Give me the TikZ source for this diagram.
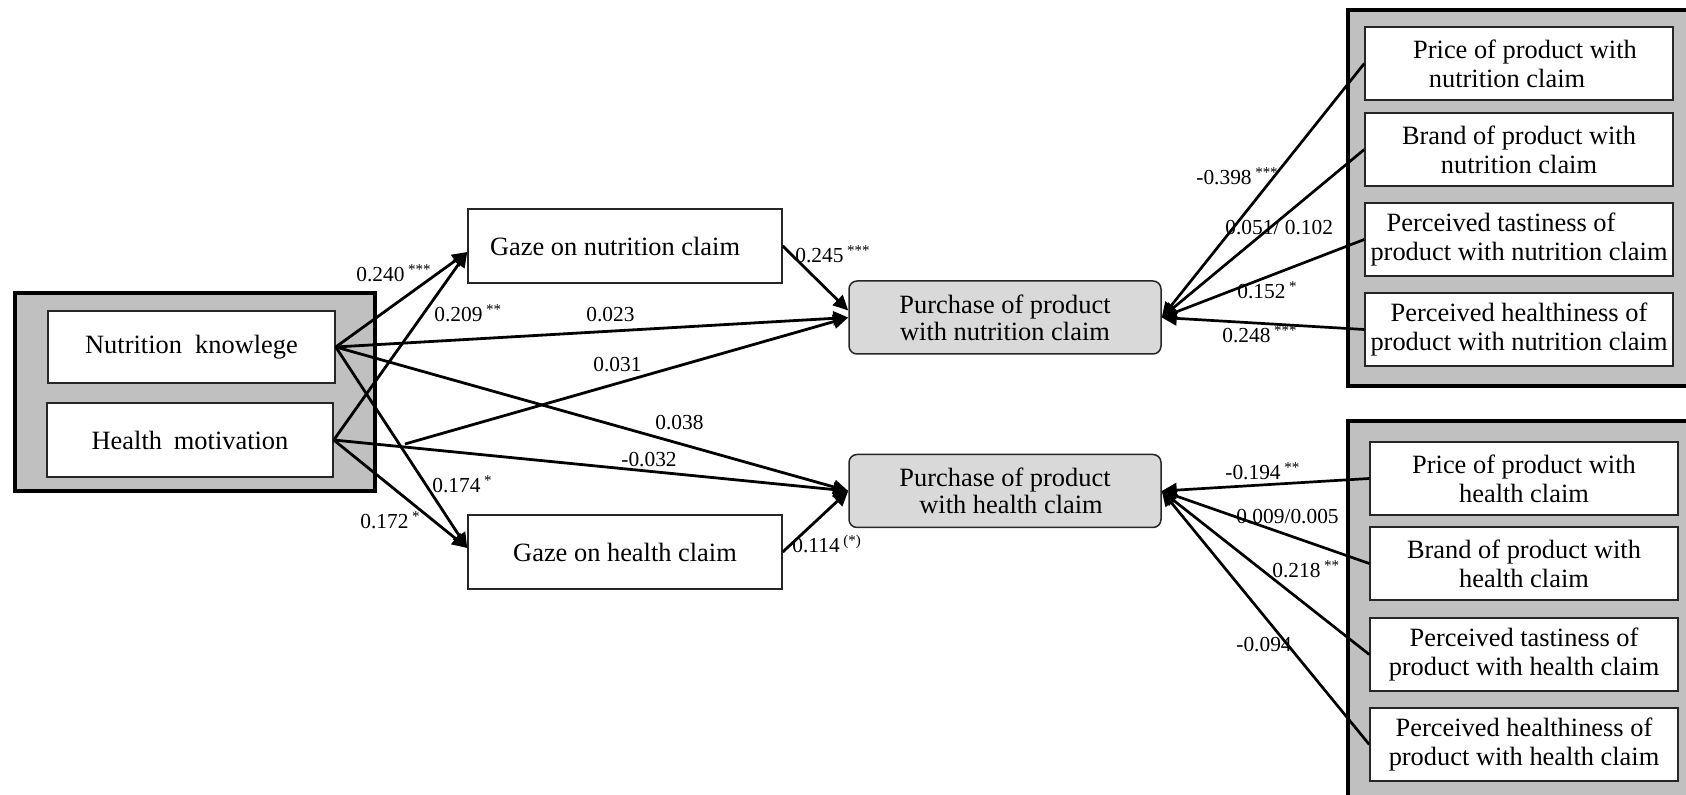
\documentclass[tikz,border=0pt]{standalone}
\usepackage{fontspec}
\setmainfont{Liberation Serif}
\usetikzlibrary{arrows.meta,calc}
\definecolor{grayfill}{HTML}{C0C0C0}
\definecolor{purfill}{HTML}{D9D9D9}
\begin{document}
\begin{tikzpicture}[x=0.5pt,y=-0.5pt,
  box/.style={draw=black!85, line width=0.75pt, fill=white, minimum width=154pt, minimum height=36.5pt, inner sep=0pt, align=center, font=\fontsize{13.2}{14.5}\selectfont},
  grp/.style={draw=black, line width=1.6pt, fill=grayfill, inner sep=0pt},
  pur/.style={box, fill=purfill, rounded corners=4pt, minimum width=156pt, font=\fontsize{13.2}{13.5}\selectfont},
  lbl/.style={anchor=base west, inner sep=0pt, font=\fontsize{10.7}{12}\selectfont},
  arr/.style={line width=1.4pt, -{Triangle[length=7.5pt,width=7pt]}},
  arrR/.style={line width=1.35pt, -{Triangle[length=7.5pt,width=7pt]}},
]
\useasboundingbox (0,0) rectangle (1686,795);
\clip (0,0) rectangle (1686,795);

% group boxes
\node[grp, minimum width=180pt, minimum height=99pt] (gL) at (195,392) {};
\node[grp, minimum width=176pt, minimum height=188pt] (gTR) at (1524,198) {};
\node[grp, minimum width=176pt, minimum height=204.5pt] (gBR) at (1524,625.5) {};

% left predictors
\node[box, minimum width=143.5pt, minimum height=36pt] (NK) at (191.5,347) {Nutrition\hspace{0.5em}knowlege};
\node[box, minimum width=143pt, minimum height=37pt] (HM) at (190,440) {Health\hspace{0.2em} motivation};

% gaze
\node[box, minimum width=157pt, minimum height=37pt] (GN) at (625,246) {Gaze on nutrition claim\hspace*{10pt}};
\node[box, minimum width=157pt, minimum height=37pt] (GH) at (625,552) {Gaze on health claim};

% purchase
\node[pur] (PN) at (1005,317.5) {Purchase of product\\with nutrition claim};
\node[pur] (PH) at (1005,491) {Purchase of product\\\hspace*{6pt}with health claim};

% right top
\node[box] (P1) at (1519,63.5) {\hspace*{6pt}Price of product with\\nutrition claim\hspace*{12pt}};
\node[box] (B1) at (1519,149.5) {Brand of product with\\nutrition claim};
\node[box] (T1) at (1519,239.5) {Perceived tastiness of\hspace*{18pt}\\product with nutrition claim};
\node[box] (H1) at (1519,329.5) {Perceived healthiness of\\product with nutrition claim};

% right bottom
\node[box] (P2) at (1524,478.5) {Price of product with\\health claim};
\node[box] (B2) at (1524,563.5) {Brand of product with\\health claim};
\node[box] (T2) at (1524,654.5) {Perceived tastiness of\\product with health claim};
\node[box] (H2) at (1524,744.5) {Perceived healthiness of\\product with health claim};

\coordinate (c031) at (405,444);

% connectors left
\draw[arr] (NK.east) -- ([yshift=-3pt]GN.west);
\draw[arr] (HM.east) -- ([yshift=-3pt]GN.west);
\draw[arr] (NK.east) -- ([yshift=2pt]GH.west);
\draw[arr] (HM.east) -- ([yshift=2pt]GH.west);
\draw[arr] (NK.east) -- (PN.west);
\draw[arr] (NK.east) -- (PH.west);
\draw[arr] (c031) -- (PN.west);
\draw[arr] (HM.east) -- (PH.west);
\draw[arr] (GN.east) -- ([yshift=3.5pt]PN.west);
\draw[arr] (GH.east) -- (PH.west);

% connectors right
\draw[arrR] (P1.west) -- (PN.east);
\draw[arrR] (B1.west) -- (PN.east);
\draw[arrR] (T1.west) -- (PN.east);
\draw[arrR] (H1.west) -- (PN.east);
\draw[arrR] (P2.west) -- (PH.east);
\draw[arrR] (B2.west) -- (PH.east);
\draw[arrR] (T2.west) -- (PH.east);
\draw[arrR] (H2.west) -- (PH.east);

% labels
\node[lbl] (l1) at (356,282) {0.240\,\textsuperscript{***}};
\node[lbl] (l2) at (434,322) {0.209\,\textsuperscript{**}};
\node[lbl] (l3) at (586,322) {0.023};
\node[lbl] (l4) at (593,372) {0.031};
\node[lbl] (l5) at (655,430) {0.038};
\node[lbl] (l6) at (621,467) {-0.032};
\node[lbl] (l7) at (432,493) {0.174\,\textsuperscript{*}};
\node[lbl] (l8) at (360,529) {0.172\,\textsuperscript{*}};
\node[lbl] (l9) at (795,263) {0.245\,\textsuperscript{***}};
\node[lbl] (l10) at (792,553) {0.114\,\textsuperscript{(*)}};
\node[lbl] (l11) at (1196,185) {-0.398\,\textsuperscript{***}};
\node[lbl] (l12) at (1225,235) {0.051/ 0.102};
\node[lbl] (l13) at (1237,299) {0.152\,\textsuperscript{*}};
\node[lbl] (l14) at (1222,343) {0.248\,\textsuperscript{***}};
\node[lbl] (l15) at (1225,480) {-0.194\,\textsuperscript{**}};
\node[lbl] (l16) at (1236,524) {0.009/0.005};
\node[lbl] (l17) at (1272,578) {0.218\,\textsuperscript{**}};
\node[lbl] (l18) at (1236,652) {-0.094};
\end{tikzpicture}
\end{document}
